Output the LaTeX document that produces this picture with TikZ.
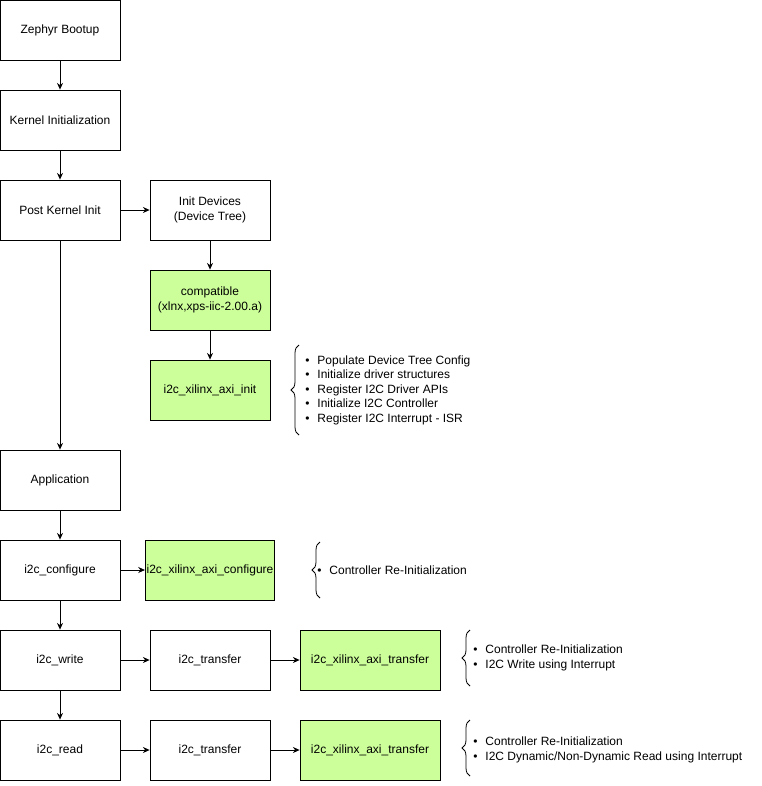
\documentclass[tikz,border=0pt]{standalone}
\usepackage{fontspec}
\setmainfont{Liberation Sans}
\usetikzlibrary{decorations.pathreplacing,arrows.meta}
\definecolor{lg}{HTML}{CCFF99}
\begin{document}
\begin{tikzpicture}[x=0.75pt,y=-0.75pt,
 box/.style={draw,line width=0.6pt,minimum width=90pt,minimum height=45pt,inner sep=1pt,align=center,font=\fontsize{9}{11}\selectfont},
 wbox/.style={box,minimum width=105pt},
 g/.style={fill=lg},
 arr/.style={-{Stealth[length=5pt,width=4.5pt]},line width=0.6pt},
 br/.style={decorate,decoration={brace,amplitude=6pt},line width=0.6pt},
 lst/.style={anchor=west,align=left,font=\fontsize{9}{10.9}\selectfont,inner sep=0pt}]
\useasboundingbox (0,0) rectangle (761,786);
\node[box] (zb) at (60,30) {Zephyr Bootup};
\node[box] (ki) at (60,120) {Kernel Initialization};
\node[box] (pk) at (60,210) {Post Kernel Init};
\node[box] (id) at (210,210) {Init Devices\\(Device Tree)};
\node[box,g] (cp) at (210,300) {compatible\\(xlnx,xps-iic-2.00.a)};
\node[box,g] (ai) at (210,390) {i2c\_xilinx\_axi\_init};
\node[box] (ap) at (60,480) {Application};
\node[box] (cf) at (60,570) {i2c\_configure};
\node[box,g] (ac) at (210,570) {i2c\_xilinx\_axi\_configure};
\node[box] (wr) at (60,660) {i2c\_write};
\node[box] (t1) at (210,660) {i2c\_transfer};
\node[wbox,g] (x1) at (370,660) {i2c\_xilinx\_axi\_transfer};
\node[box] (rd) at (60,750) {i2c\_read};
\node[box] (t2) at (210,750) {i2c\_transfer};
\node[wbox,g] (x2) at (370,750) {i2c\_xilinx\_axi\_transfer};
\draw[arr] (zb) -- (ki);
\draw[arr] (ki) -- (pk);
\draw[arr] (pk) -- (id);
\draw[arr] (id) -- (cp);
\draw[arr] (cp) -- (ai);
\draw[arr] (pk) -- (ap);
\draw[arr] (ap) -- (cf);
\draw[arr] (cf) -- (ac);
\draw[arr] (cf) -- (wr);
\draw[arr] (wr) -- (t1);
\draw[arr] (t1) -- (x1);
\draw[arr] (wr) -- (rd);
\draw[arr] (rd) -- (t2);
\draw[arr] (t2) -- (x2);
\coordinate (b1a) at (299,435); \coordinate (b1b) at (299,345);
\draw[br] (b1a) -- (b1b);
\node[lst] (l1) at (305,390) {\textbullet\hspace{6pt}Populate Device Tree Config\\\textbullet\hspace{6pt}Initialize driver structures\\\textbullet\hspace{6pt}Register I2C Driver APIs\\\textbullet\hspace{6pt}Initialize I2C Controller\\\textbullet\hspace{6pt}Register I2C Interrupt - ISR};
\coordinate (b2a) at (320,598); \coordinate (b2b) at (320,542);
\draw[br] (b2a) -- (b2b);
\node[lst] (l2) at (317,570) {\textbullet\hspace{6pt}Controller Re-Initialization};
\coordinate (b3a) at (470,686); \coordinate (b3b) at (470,630);
\draw[br] (b3a) -- (b3b);
\node[lst] (l3) at (473,658) {\textbullet\hspace{6pt}Controller Re-Initialization\\\textbullet\hspace{6pt}I2C Write using Interrupt};
\coordinate (b4a) at (470,776); \coordinate (b4b) at (470,720);
\draw[br] (b4a) -- (b4b);
\node[lst] (l4) at (473,750) {\textbullet\hspace{6pt}Controller Re-Initialization\\\textbullet\hspace{6pt}I2C Dynamic/Non-Dynamic Read using Interrupt};
\end{tikzpicture}
\end{document}
